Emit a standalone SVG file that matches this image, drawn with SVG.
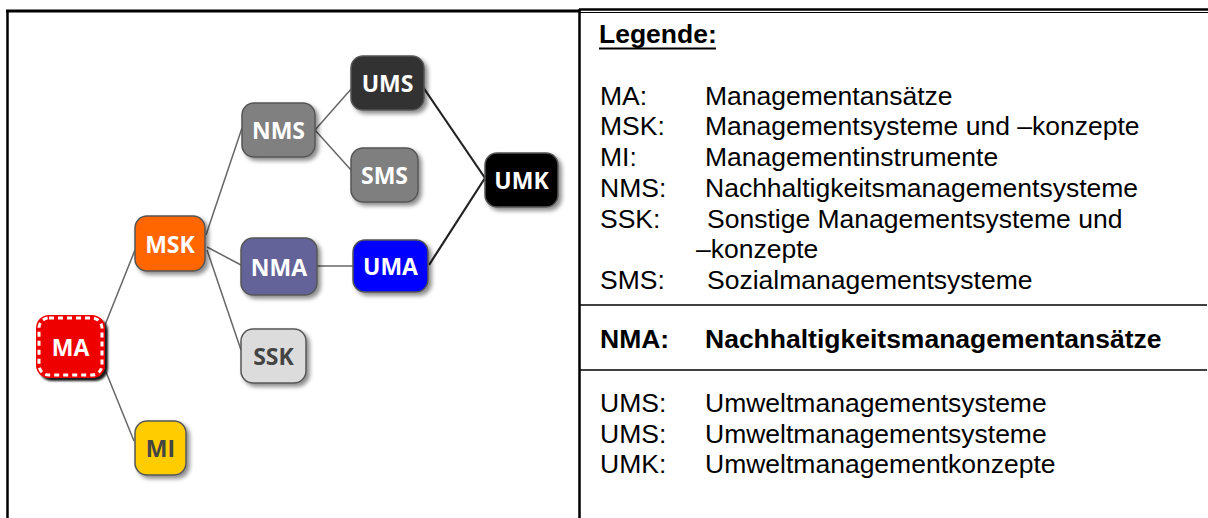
<svg xmlns="http://www.w3.org/2000/svg" width="1208" height="518" viewBox="0 0 1208 518">
<defs>
<style>
.node rect.box{stroke:#555;stroke-width:1.5;filter:url(#sh)}
.node text{font-family:"Open Sans","Noto Sans",sans-serif;font-weight:700;font-size:23px;text-anchor:middle;dominant-baseline:central}
.w{fill:#fff}
.d{fill:#444}
.conn line{stroke:#666;stroke-width:1.5}
.conn line.dark{stroke:#222;stroke-width:2.2}
.lg{font-family:"Liberation Sans",Arial,sans-serif;font-size:26.5px;fill:#000}
.b{font-weight:700}
.frame{stroke:#000;fill:none}
</style>
<filter id="sh" x="-20%" y="-20%" width="150%" height="150%">
<feDropShadow dx="3" dy="3" stdDeviation="2" flood-color="#000" flood-opacity="0.45"/>
</filter>
<filter id="shh" x="-20%" y="-20%" width="150%" height="150%">
<feDropShadow dx="3" dy="3" stdDeviation="1" flood-color="#000" flood-opacity="0.9"/>
</filter>
</defs>
<rect width="1208" height="518" fill="#fff"/>
<g id="frames">
<line class="frame" x1="7.5" y1="10" x2="7.5" y2="518" stroke-width="2.5"/>
<line class="frame" x1="6" y1="11" x2="580" y2="11" stroke-width="3"/>
<line class="frame" x1="579.5" y1="9" x2="579.5" y2="518" stroke-width="2.5"/>
<line class="frame" x1="579" y1="9.5" x2="1208" y2="9.5" stroke-width="2.5"/>
<line class="frame" x1="579" y1="12.5" x2="1208" y2="12.5" stroke-width="1"/>
<line class="frame" x1="580" y1="305" x2="1207" y2="305" stroke-width="1.6"/>
<line class="frame" x1="580" y1="370" x2="1207" y2="370" stroke-width="1.6"/>
</g>
<g id="connectors" class="conn">
<line x1="105" y1="325" x2="135" y2="250"/>
<line x1="106" y1="372" x2="134" y2="441"/>
<line x1="206" y1="235" x2="242" y2="128"/>
<line x1="207" y1="247" x2="241" y2="265"/>
<line x1="207" y1="250" x2="241" y2="350"/>
<line x1="315" y1="130" x2="352" y2="88"/>
<line x1="315" y1="130" x2="351" y2="170"/>
<line x1="317" y1="266" x2="353" y2="266"/>
<line class="dark" x1="423" y1="87" x2="485" y2="178"/>
<line class="dark" x1="429" y1="265" x2="485" y2="178"/>
</g>
<g id="MA" class="node">
<rect x="36" y="315" width="69" height="63" rx="13" fill="#ee0000" filter="url(#shh)"/>
<rect x="39" y="318" width="63" height="57" rx="10" fill="none" stroke="#fff" stroke-width="3" stroke-dasharray="5 4"/>
<text class="w" x="70.5" y="347">MA</text>
</g>
<g id="MSK" class="node">
<rect class="box" x="135" y="216" width="70" height="55" rx="12" fill="#ff6600"/>
<text class="w" x="170" y="243.5">MSK</text>
</g>
<g id="MI" class="node">
<rect class="box" x="135" y="421" width="51" height="54" rx="12" fill="#ffcc00"/>
<text class="d" x="160.5" y="448">MI</text>
</g>
<g id="NMS" class="node">
<rect class="box" x="242" y="103" width="73" height="54" rx="12" fill="#808080"/>
<text class="w" x="278.5" y="130">NMS</text>
</g>
<g id="NMA" class="node">
<rect class="box" x="241" y="238" width="76" height="57" rx="12" fill="#646499"/>
<text class="w" x="279" y="266.5">NMA</text>
</g>
<g id="SSK" class="node">
<rect class="box" x="241" y="329" width="65" height="54" rx="12" fill="#dcdcdc"/>
<text class="d" x="273.5" y="356">SSK</text>
</g>
<g id="UMS" class="node">
<rect class="box" x="351" y="56" width="73" height="54" rx="12" fill="#333333"/>
<text class="w" x="387.5" y="83">UMS</text>
</g>
<g id="SMS" class="node">
<rect class="box" x="351" y="148" width="67" height="54" rx="12" fill="#7f7f7f"/>
<text class="w" x="384.5" y="175">SMS</text>
</g>
<g id="UMA" class="node">
<rect class="box" x="353" y="240" width="75" height="52" rx="12" fill="#0000ff"/>
<text class="w" x="390.5" y="266">UMA</text>
</g>
<g id="UMK" class="node">
<rect class="box" x="485" y="153" width="73" height="54" rx="12" fill="#000000"/>
<text class="w" x="521.5" y="180">UMK</text>
</g>
<g id="legend">
<text class="lg b" x="599" y="43">Legende:</text>
<line x1="599" y1="48.5" x2="716" y2="48.5" stroke="#000" stroke-width="2.2"/>
<text class="lg" x="600" y="105">MA:</text><text class="lg" x="705" y="105">Managementansätze</text>
<text class="lg" x="600" y="135">MSK:</text><text class="lg" x="705" y="135">Managementsysteme und –konzepte</text>
<text class="lg" x="600" y="166">MI:</text><text class="lg" x="705" y="166">Managementinstrumente</text>
<text class="lg" x="600" y="197">NMS:</text><text class="lg" x="705" y="197">Nachhaltigkeitsmanagementsysteme</text>
<text class="lg" x="600" y="228">SSK:</text><text class="lg" x="707" y="228">Sonstige Managementsysteme und</text>
<text class="lg" x="696" y="258">–konzepte</text>
<text class="lg" x="600" y="289">SMS:</text><text class="lg" x="707" y="289">Sozialmanagementsysteme</text>
<text class="lg b" x="600" y="348">NMA:</text><text class="lg b" x="705" y="348">Nachhaltigkeitsmanagementansätze</text>
<text class="lg" x="600" y="412">UMS:</text><text class="lg" x="705" y="412">Umweltmanagementsysteme</text>
<text class="lg" x="600" y="443">UMS:</text><text class="lg" x="705" y="443">Umweltmanagementsysteme</text>
<text class="lg" x="600" y="473">UMK:</text><text class="lg" x="705" y="473">Umweltmanagementkonzepte</text>
</g>
</svg>
